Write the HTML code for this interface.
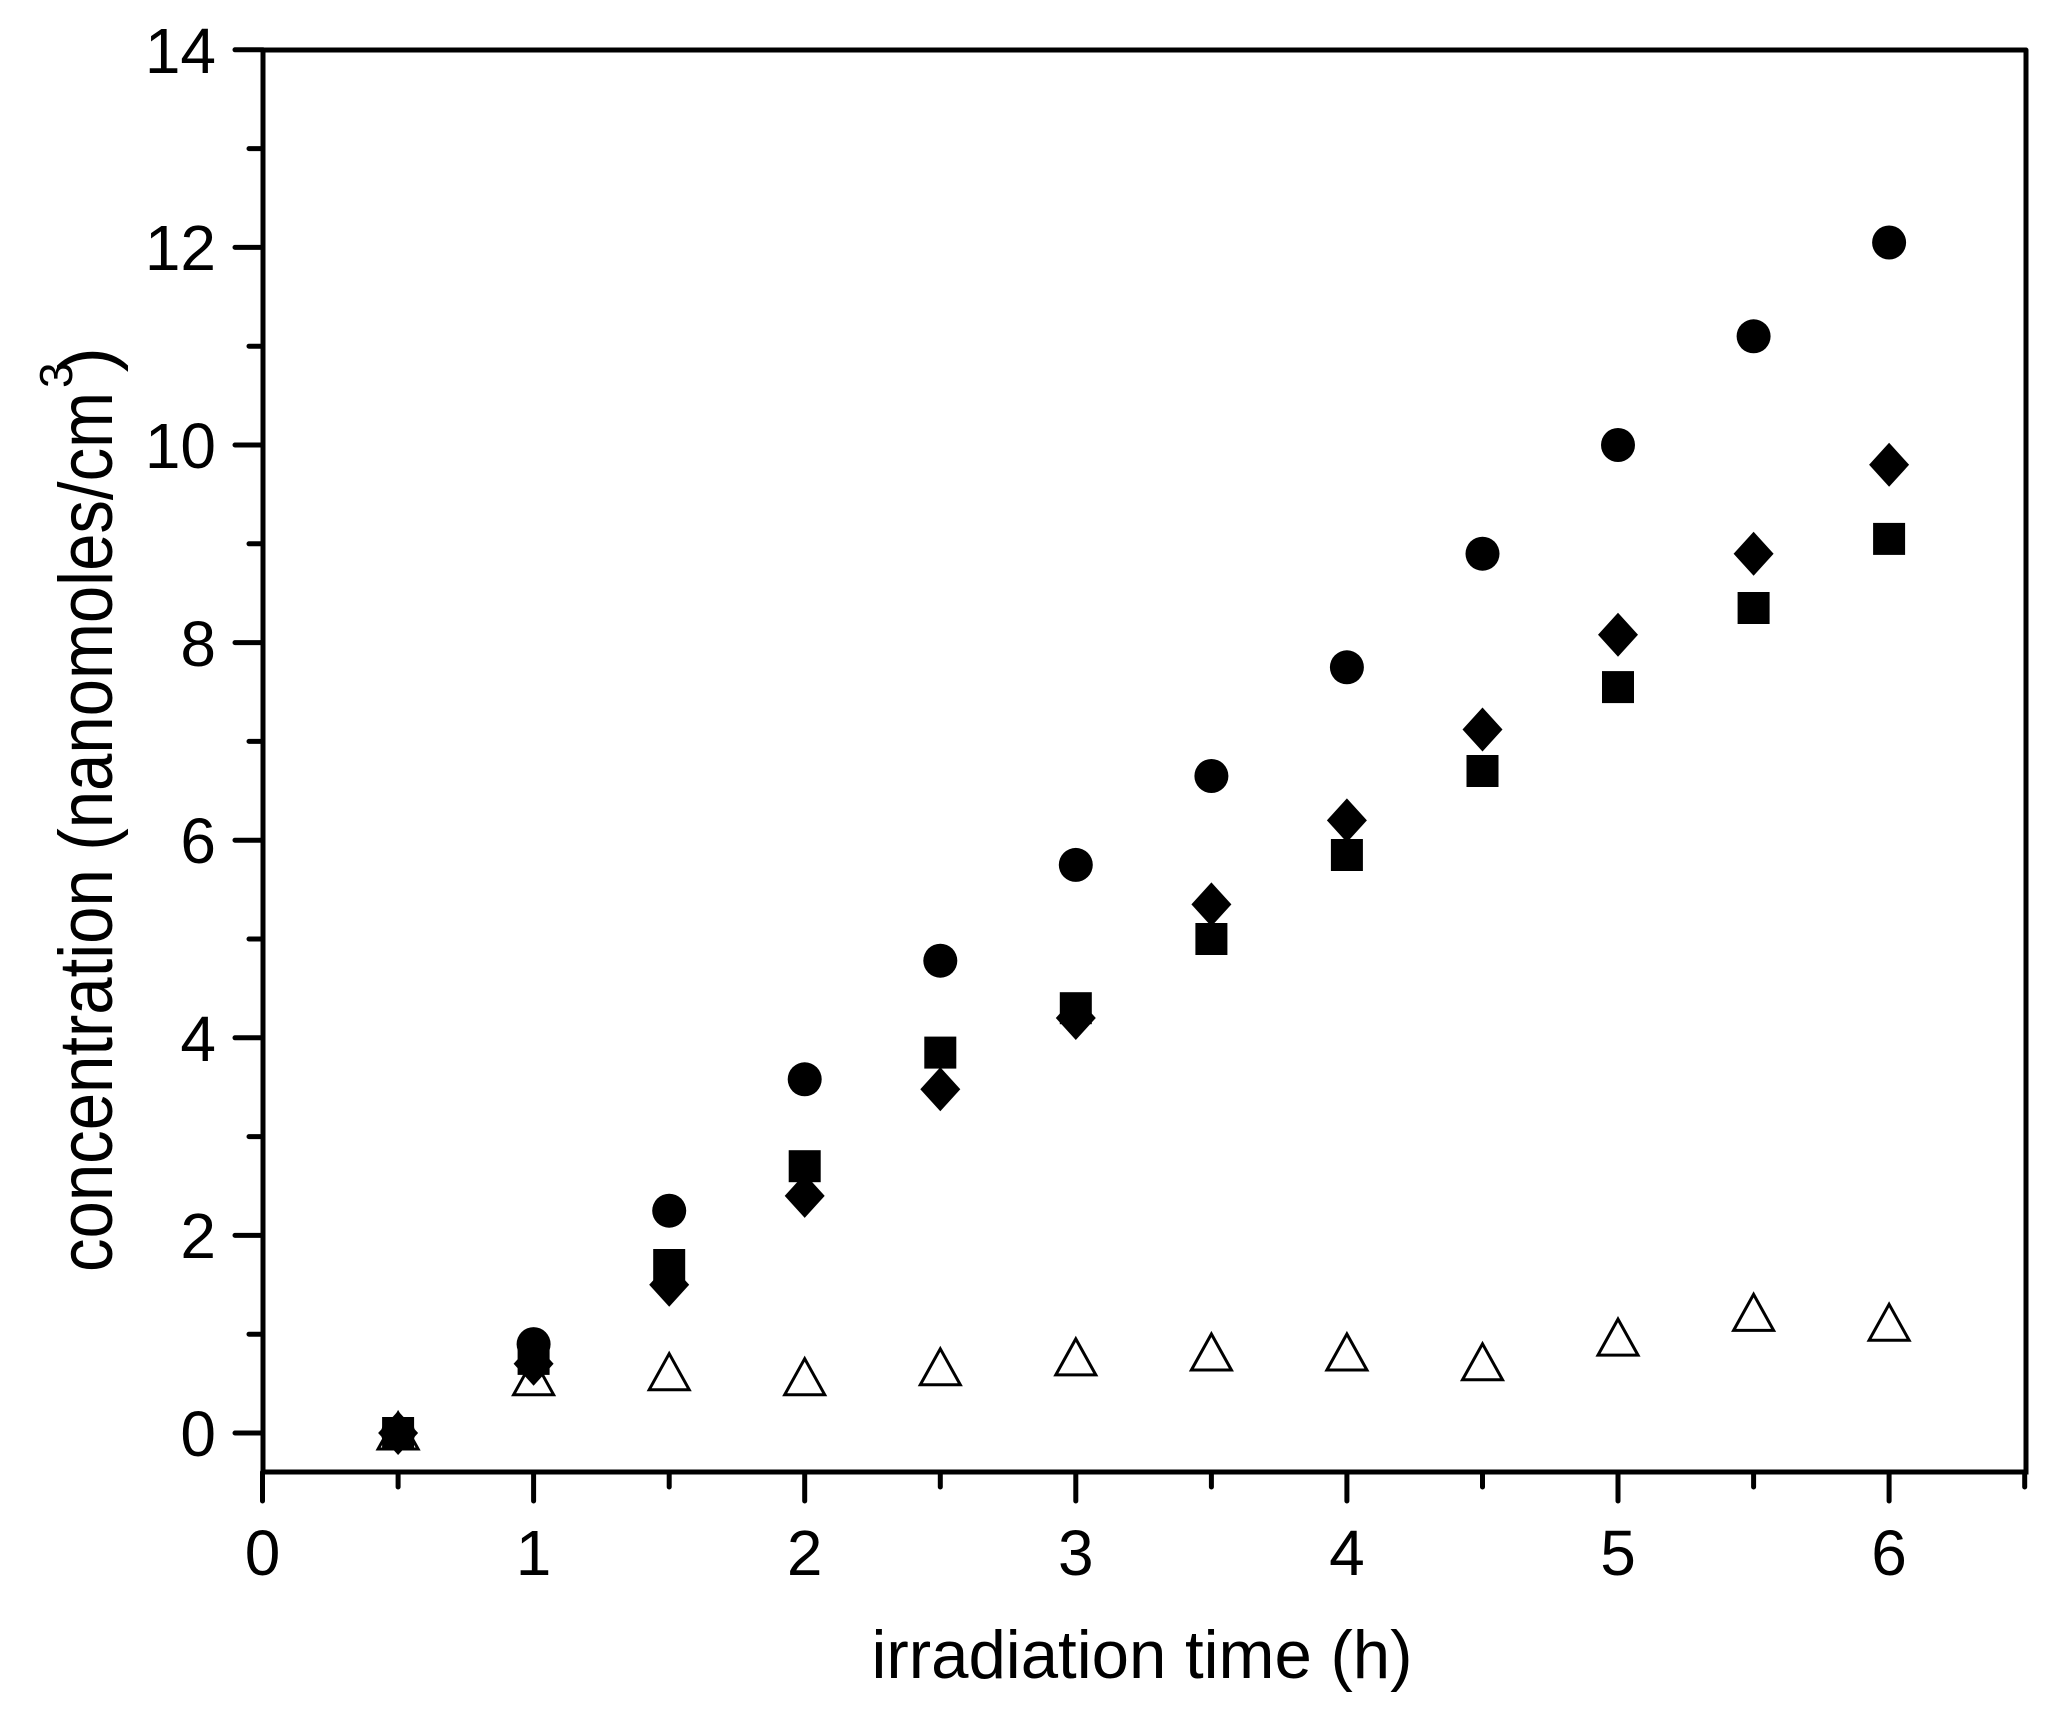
<!DOCTYPE html>
<html><head><meta charset="utf-8"><style>html,body{margin:0;padding:0;background:#fff}</style></head>
<body>
<svg width="2056" height="1724" xmlns="http://www.w3.org/2000/svg" xmlns:xlink="http://www.w3.org/1999/xlink" font-family="Liberation Sans, Arial, sans-serif">
<defs>
<polygon id="t" points="0,-20 20,16 -20,16" fill="#fff" stroke="#000" stroke-width="3"/>
<rect id="s" x="-16" y="-16" width="32" height="32" fill="#000"/>
<polygon id="d" points="0,-22 20,0 0,22 -20,0" fill="#000"/>
<circle id="c" r="17" fill="#000"/>
</defs>
<rect width="2056" height="1724" fill="#fff"/>
<g stroke="#000" stroke-width="5" stroke-linecap="round" fill="none">
<path d="M263 50 H2026 M263 50 V1472 H2026 V50"/>
<path d="M262.5 1472V1501 M533.6 1472V1501 M804.7 1472V1501 M1075.8 1472V1501 M1346.9 1472V1501 M1618 1472V1501 M1889.1 1472V1501
M398.1 1472V1487 M669.2 1472V1487 M940.3 1472V1487 M1211.4 1472V1487 M1482.5 1472V1487 M1753.6 1472V1487 M2024.7 1472V1487
M263 1433H235 M263 1235.4H235 M263 1037.8H235 M263 840.2H235 M263 642.6H235 M263 445H235 M263 247.4H235 M263 49.8H235
M263 1334.2H249 M263 1136.6H249 M263 939H249 M263 741.4H249 M263 543.8H249 M263 346.2H249 M263 148.6H249"/>
</g>
<g font-size="64" fill="#000" text-anchor="middle">
<text x="262.5" y="1575">0</text><text x="533.6" y="1575">1</text><text x="804.7" y="1575">2</text><text x="1075.8" y="1575">3</text><text x="1346.9" y="1575">4</text><text x="1618" y="1575">5</text><text x="1889.1" y="1575">6</text>
</g>
<g font-size="64" fill="#000" text-anchor="end">
<text x="216" y="1456">0</text><text x="216" y="1258">2</text><text x="216" y="1061">4</text><text x="216" y="863">6</text><text x="216" y="666">8</text><text x="216" y="468">10</text><text x="216" y="270">12</text><text x="216" y="73">14</text>
</g>
<g>
<use xlink:href="#t" x="398.1" y="1433"/><use xlink:href="#t" x="533.6" y="1378.7"/><use xlink:href="#t" x="669.2" y="1373.7"/><use xlink:href="#t" x="804.7" y="1378.7"/><use xlink:href="#t" x="940.3" y="1368.8"/><use xlink:href="#t" x="1075.8" y="1358.9"/><use xlink:href="#t" x="1211.4" y="1354"/><use xlink:href="#t" x="1346.9" y="1354"/><use xlink:href="#t" x="1482.5" y="1363.8"/><use xlink:href="#t" x="1618" y="1339.1"/><use xlink:href="#t" x="1753.6" y="1314.4"/><use xlink:href="#t" x="1889.1" y="1324.3"/>
<use xlink:href="#s" x="398.1" y="1433"/><use xlink:href="#s" x="533.6" y="1358.9"/><use xlink:href="#s" x="669.2" y="1265"/><use xlink:href="#s" x="804.7" y="1166.2"/><use xlink:href="#s" x="940.3" y="1052.6"/><use xlink:href="#s" x="1075.8" y="1008.2"/><use xlink:href="#s" x="1211.4" y="939"/><use xlink:href="#s" x="1346.9" y="855"/><use xlink:href="#s" x="1482.5" y="771"/><use xlink:href="#s" x="1618" y="687.1"/><use xlink:href="#s" x="1753.6" y="608"/><use xlink:href="#s" x="1889.1" y="538.9"/>
<use xlink:href="#d" x="398.1" y="1433"/><use xlink:href="#d" x="533.6" y="1363.8"/><use xlink:href="#d" x="669.2" y="1284.8"/><use xlink:href="#d" x="804.7" y="1195.9"/><use xlink:href="#d" x="940.3" y="1089.2"/><use xlink:href="#d" x="1075.8" y="1018"/><use xlink:href="#d" x="1211.4" y="904.4"/><use xlink:href="#d" x="1346.9" y="820.4"/><use xlink:href="#d" x="1482.5" y="729.5"/><use xlink:href="#d" x="1618" y="634.7"/><use xlink:href="#d" x="1753.6" y="553.7"/><use xlink:href="#d" x="1889.1" y="464.8"/>
<use xlink:href="#c" x="398.1" y="1433"/><use xlink:href="#c" x="533.6" y="1344.1"/><use xlink:href="#c" x="669.2" y="1210.7"/><use xlink:href="#c" x="804.7" y="1079.3"/><use xlink:href="#c" x="940.3" y="960.7"/><use xlink:href="#c" x="1075.8" y="864.9"/><use xlink:href="#c" x="1211.4" y="776"/><use xlink:href="#c" x="1346.9" y="667.3"/><use xlink:href="#c" x="1482.5" y="553.7"/><use xlink:href="#c" x="1618" y="445"/><use xlink:href="#c" x="1753.6" y="336.3"/><use xlink:href="#c" x="1889.1" y="242.5"/>
</g>
<text x="1142" y="1678" font-size="68" text-anchor="middle" textLength="541" lengthAdjust="spacingAndGlyphs">irradiation time (h)</text>
<text transform="translate(112,1272) rotate(-90)" font-size="76" textLength="880" lengthAdjust="spacingAndGlyphs">concentration (nanomoles/cm</text>
<text transform="translate(72,388) rotate(-90)" font-size="46">3</text>
<text transform="translate(112,347) rotate(-90)" font-size="76" text-anchor="end">)</text>
</svg>
</body></html>
